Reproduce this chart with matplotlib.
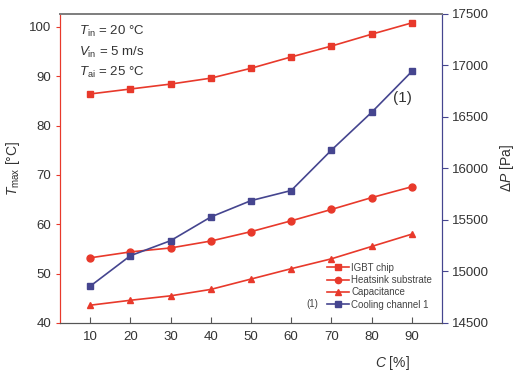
import matplotlib.pyplot as plt
from matplotlib.lines import Line2D

plt.rcParams['font.family'] = ['Liberation Sans', 'DejaVu Sans']
plt.rcParams['mathtext.fontset'] = 'custom'
plt.rcParams['mathtext.it'] = 'Liberation Sans:italic'
plt.rcParams['mathtext.rm'] = 'Liberation Sans'

red = '#e8392b'
navy = '#45458f'
textc = '#333333'

# C [%]
c_pct = [10, 20, 30, 40, 50, 60, 70, 80, 90]
# Tmax [°C]
igbt_chip = [86.4, 87.4, 88.4, 89.6, 91.6, 93.9, 96.1, 98.5, 100.8]
heatsink = [53.2, 54.4, 55.2, 56.6, 58.5, 60.7, 63.0, 65.4, 67.6]
capacitance = [43.6, 44.6, 45.5, 46.8, 48.9, 51.0, 53.0, 55.5, 58.0]
# Delta P [Pa]
cooling_channel = [14857, 15153, 15299, 15529, 15688, 15786, 16178, 16545, 16942]

fig = plt.figure(figsize=(5.15, 3.74), dpi=100)
ax = fig.add_axes([0.1165, 0.1364, 0.7417, 0.8262])
ax2 = ax.twinx()

ax.plot(c_pct, igbt_chip, color=red, marker='s', ms=4.5, lw=1.2)
ax.plot(c_pct, heatsink, color=red, marker='o', ms=5, lw=1.2)
ax.plot(c_pct, capacitance, color=red, marker='^', ms=5, lw=1.2)
ax2.plot(c_pct, cooling_channel, color=navy, marker='s', ms=4.5, lw=1.2)

ax.set_xlim(2.5, 97.5)
ax.set_ylim(40, 102.6)
ax2.set_ylim(14500, 17500)
ax.set_xticks(c_pct)
ax.set_yticks([40, 50, 60, 70, 80, 90, 100])
ax2.set_yticks([14500, 15000, 15500, 16000, 16500, 17000, 17500])

ax.tick_params(axis='x', direction='in', length=4, colors=textc, labelsize=9.5, color='#555555', pad=6)
ax.tick_params(axis='y', direction='out', length=3, color=red, labelcolor=textc, labelsize=9.5)
ax2.tick_params(axis='y', direction='out', length=4, color=navy, labelcolor=textc, labelsize=9.5)

for a in (ax, ax2):
    a.spines['top'].set_color('#808080')
    a.spines['bottom'].set_color('#555555')
    a.spines['left'].set_color(red)
    a.spines['right'].set_color(navy)
    a.spines['top'].set_linewidth(1.4)

ax.set_ylabel(r'$T_{\mathrm{max}}$ [°C]', fontsize=10, color=textc)
ax.yaxis.set_label_coords(-0.1, 0.5)
ax2.set_ylabel(r'$\Delta P$ [Pa]', fontsize=10, color=textc, labelpad=6)
ax.set_xlabel(r'$C$ [%]', fontsize=10, color=textc)
ax.xaxis.set_label_coords(0.869, -0.1)

ax.text(0.05, 0.945, r'$T_{\mathrm{in}}$ = 20 °C', transform=ax.transAxes, fontsize=9.5, color=textc, va='center')
ax.text(0.05, 0.877, r'$V_{\mathrm{in}}$ = 5 m/s', transform=ax.transAxes, fontsize=9.5, color=textc, va='center')
ax.text(0.05, 0.812, r'$T_{\mathrm{ai}}$ = 25 °C', transform=ax.transAxes, fontsize=9.5, color=textc, va='center')

ax2.text(85.2, 16680, '(1)', fontsize=11, color=textc, ha='left', va='center')

handles = [
    Line2D([], [], color=red, marker='s', ms=4, lw=1.2),
    Line2D([], [], color=red, marker='o', ms=4.5, lw=1.2),
    Line2D([], [], color=red, marker='^', ms=4.5, lw=1.2),
    Line2D([], [], color=navy, marker='s', ms=4, lw=1.2),
]
labels = ['IGBT chip', 'Heatsink substrate', 'Capacitance', 'Cooling channel 1']
leg = ax.legend(handles, labels, loc='lower right', bbox_to_anchor=(0.985, 0.03),
                frameon=False, fontsize=7, handlelength=2.2, handletextpad=0.3,
                labelspacing=0.25, borderaxespad=0)
for t in leg.get_texts():
    t.set_color('#444444')
ax.text(0.676, 0.06, '(1)', transform=ax.transAxes, fontsize=7, color='#444444', ha='right', va='center')

fig.savefig('out.png', dpi=100)
